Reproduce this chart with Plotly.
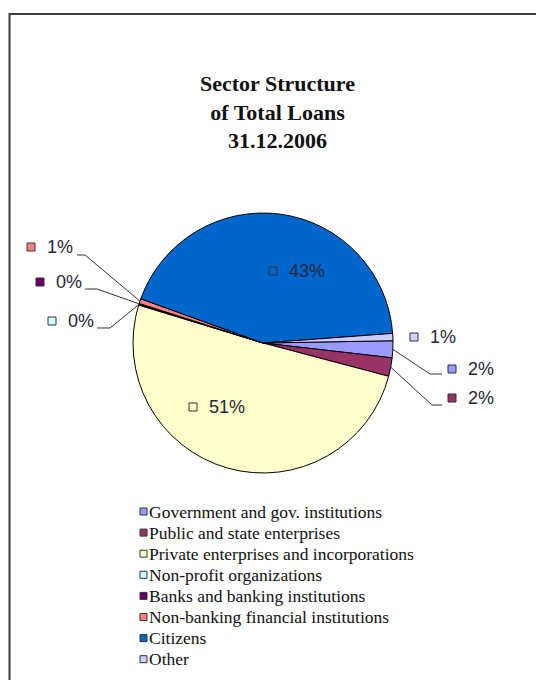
import math
import plotly.graph_objects as go

# Sector structure of total loans, 31.12.2006 (share of total, %)
categories = [
    "Government and gov. institutions",
    "Public and state enterprises",
    "Private enterprises and incorporations",
    "Non-profit organizations",
    "Banks and banking institutions",
    "Non-banking financial institutions",
    "Citizens",
    "Other",
]
shares = [2.1, 2.3, 50.6, 0.1, 0.1, 0.6, 43.3, 0.9]
colors = ["#9999FF", "#993366", "#FFFFCC", "#CCFFFF",
          "#660066", "#FF8080", "#0066CC", "#CCCCFF"]
title_lines = ["Sector Structure", "of Total Loans", "31.12.2006"]

# ---- page geometry (pixels) ----
W, H = 536, 680
CX, CY, R = 263, 343, 130          # pie centre and radius
ROTATION = 89                       # start angle of first slice, clockwise from 12 o'clock

SERIF = "Liberation Serif, Times New Roman, serif"
SANS = "Liberation Sans, Arial, sans-serif"
LABEL_COLOR = "#26263a"
EDGE = "#333333"


def px(x):
    return x / W


def py(y):
    return 1 - y / H


# data-label placement: key-square centre and the leader line bend points
label_layout = [
    dict(key=(452, 369), leader=[(442, 374), (430, 374)]),
    dict(key=(452, 398), leader=[(442, 405), (432, 405)]),
    dict(key=(193, 407), leader=None),
    dict(key=(52, 321), leader=[(97, 328), (110, 328)]),
    dict(key=(40, 282), leader=[(85, 289), (97, 289)]),
    dict(key=(31, 247), leader=[(77, 255), (85, 255)]),
    dict(key=(273, 271), leader=None),
    dict(key=(414, 337), leader=None),
]

fig = go.Figure()
fig.add_trace(go.Pie(
    labels=categories,
    values=shares,
    sort=False,
    direction="clockwise",
    rotation=ROTATION,
    marker=dict(colors=colors, line=dict(color="#000000", width=1)),
    textinfo="none",
    hoverinfo="label+percent",
    showlegend=False,
    domain=dict(x=[px(CX - R), px(CX + R)], y=[py(CY + R), py(CY - R)]),
))

shapes = []
annotations = []

# frame around the chart
shapes.append(dict(type="rect", xref="paper", yref="paper",
                   x0=px(9.5), x1=px(548), y0=py(14), y1=py(700),
                   line=dict(color="#3c3c3c", width=2), fillcolor="rgba(0,0,0,0)"))

# title
annotations.append(dict(
    xref="paper", yref="paper", x=px(277), y=py(112),
    xanchor="center", yanchor="middle", showarrow=False,
    text="<b>" + "<br>".join(title_lines) + "</b>",
    font=dict(family=SERIF, size=22, color="#111111"),
))

# slice mid-angles from the values
total = sum(shares)
mids = []
acc = 0.0
for v in shares:
    mids.append(ROTATION + (acc + v / 2) / total * 360)
    acc += v


def edge_point(angle_deg):
    a = math.radians(angle_deg)
    return CX + R * math.sin(a), CY - R * math.cos(a)


# data labels: key square + percentage, leader lines for the thin slices
for i, v in enumerate(shares):
    lay = label_layout[i]
    kx, ky = lay["key"]
    shapes.append(dict(type="rect", xref="paper", yref="paper", layer="above",
                       x0=px(kx - 4), x1=px(kx + 4), y0=py(ky + 4), y1=py(ky - 4),
                       fillcolor=colors[i], line=dict(color=EDGE, width=1)))
    pct = round(v / total * 100)
    annotations.append(dict(
        xref="paper", yref="paper", x=px(kx + 14), y=py(ky),
        xanchor="left", yanchor="middle", showarrow=False,
        text=f"{pct}%", font=dict(family=SANS, size=18, color=LABEL_COLOR),
    ))
    if lay["leader"]:
        pts = list(lay["leader"]) + [edge_point(mids[i])]
        path = "M " + " L ".join(f"{px(x):.5f},{py(y):.5f}" for x, y in pts)
        shapes.append(dict(type="path", xref="paper", yref="paper", path=path,
                           layer="above", line=dict(color=EDGE, width=1)))

# legend rows
LEG_X, LEG_Y0, LEG_STEP = 143.5, 511.5, 21.1
for i, name in enumerate(categories):
    y = LEG_Y0 + i * LEG_STEP
    shapes.append(dict(type="rect", xref="paper", yref="paper",
                       x0=px(LEG_X - 3.5), x1=px(LEG_X + 3.5),
                       y0=py(y + 3.5), y1=py(y - 3.5),
                       fillcolor=colors[i], line=dict(color=EDGE, width=1)))
    annotations.append(dict(
        xref="paper", yref="paper", x=px(LEG_X + 3), y=py(y),
        xanchor="left", yanchor="middle", showarrow=False,
        text=name, font=dict(family=SERIF, size=17.5, color="#111111"),
    ))

fig.update_layout(
    width=W, height=H,
    margin=dict(l=0, r=0, t=0, b=0),
    paper_bgcolor="#ffffff",
    plot_bgcolor="#ffffff",
    showlegend=False,
    shapes=shapes,
    annotations=annotations,
)

fig.write_html("out.html")
